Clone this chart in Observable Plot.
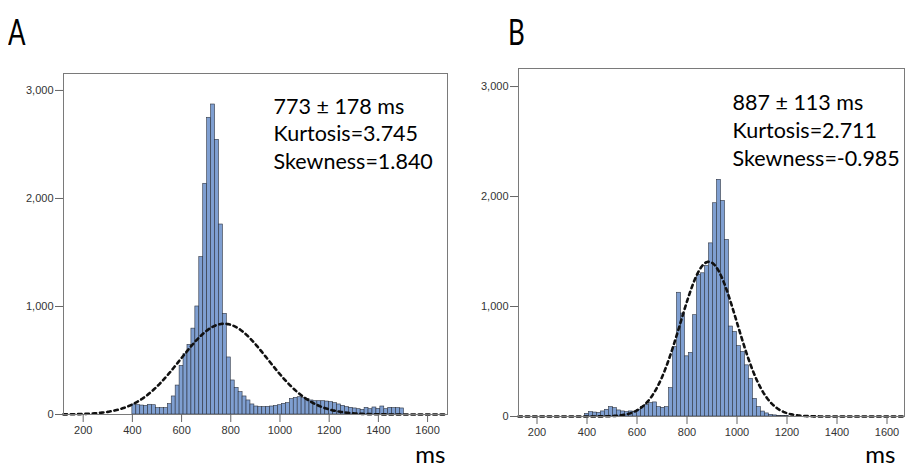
<!DOCTYPE html>
<html><head><meta charset="utf-8">
<script src="https://cdn.jsdelivr.net/npm/d3@7"></script>
<script src="https://cdn.jsdelivr.net/npm/@observablehq/plot@0.6"></script>
<style>
body{margin:0;background:#fff;}
#wrap{position:relative;width:905px;height:466px;overflow:hidden;background:#fff;}
#wrap svg{position:absolute;top:0;}
.letter{position:absolute;top:12px;font-family:Lato,sans-serif;font-size:37px;line-height:1;transform:scaleX(0.7);transform-origin:left top;color:#000;}
</style>
</head><body>
<div id="wrap"></div>
<script>
// ---- data ----
const xTicks = [200, 400, 600, 800, 1000, 1200, 1400, 1600];
const yTicks = [0, 1000, 2000, 3000];

// Panel A histogram: bins of binWidthA ms starting at binStartA
const binStartA = 400;
const binWidthA = 16;
const countsA = [93, 86, 83, 80, 90, 86, 59, 59, 59, 96,
  167, 268, 450, 560, 645, 795, 1000, 1457, 2136, 2747,
  2870, 2543, 1759, 932, 528, 315, 247, 207, 167, 130,
  93, 74, 68, 68, 71, 74, 80, 86, 99, 105,
  142, 154, 160, 151, 142, 130, 123, 123, 123, 120,
  114, 105, 93, 80, 68, 62, 56, 49, 43, 62,
  49, 65, 52, 74, 49, 62, 59, 59, 56];
const meanA = 773, sdA = 178, curvePeakA = 840;
const statsA = ["773 ± 178 ms", "Kurtosis=3.745", "Skewness=1.840"];

// Panel B histogram
const binStartB = 392;
const binWidthB = 16;
const countsB = [24, 40, 36, 33, 46, 61, 85, 76, 55, 46,
  40, 46, 40, 61, 85, 106, 122, 128, 85, 79,
  85, 258, 632, 1125, 936, 547, 578, 921, 1287, 1302,
  1368, 1574, 1939, 2152, 1960, 1605, 818, 769, 640, 587,
  465, 343, 160, 85, 45, 28, 15, 10, 6, 4, 3];
const meanB = 887, sdB = 113, curvePeakB = 1407;
const statsB = ["887 ± 113 ms", "Kurtosis=2.711", "Skewness=-0.985"];

const panelLetters = ["A", "B"];
const unitLabel = "ms";

// ---- helpers ----
const toBins = (counts, start, w) => counts.map((c, i) => ({x0: start + i * w, x1: start + (i + 1) * w, count: c}));
const normalCurve = (mean, sd, peak, domain) => {
  const pts = [];
  for (let x = domain[0]; x <= domain[1]; x += 4) pts.push({x, y: peak * Math.exp(-0.5 * ((x - mean) / sd) ** 2)});
  return pts;
};

const barFill = "#7f9fd1", barStroke = "#2e3440";

function panel({width, mLeft, mRight, mTop, mBottom, xDomain, yDomain, bins, curve, stats, statDx, statDy, statStep, msDx, msDy}) {
  return Plot.plot({
    width, height: 466,
    marginLeft: mLeft, marginRight: mRight, marginTop: mTop, marginBottom: mBottom,
    x: {domain: xDomain},
    y: {domain: yDomain},
    style: {fontFamily: "'Liberation Sans', Arial, sans-serif", fontSize: "11px", background: "transparent", overflow: "visible"},
    marks: [
      Plot.rectY(bins, {x1: "x0", x2: "x1", y: "count", fill: barFill, stroke: barStroke, strokeWidth: 0.6}),
      Plot.line(curve, {x: "x", y: "y", stroke: "#111", strokeWidth: 2.6, strokeDasharray: "3.5,3.8"}),
      Plot.frame({stroke: "#7a7a7a"}),
      Plot.axisY({ticks: yTicks, tickFormat: d3.format(","), tickSize: 8, tickPadding: 2, label: null, stroke: "#666", fill: "#333"}),
      Plot.axisX({ticks: xTicks, tickFormat: d3.format("d"), tickSize: 8, tickPadding: 4, label: null, stroke: "#666", fill: "#333"}),
      ...stats.map((t, i) => Plot.text([t], {text: d => d, frameAnchor: "top-left", textAnchor: "start", lineAnchor: "bottom",
        dx: statDx, dy: statDy + i * statStep, fontSize: 21.5, fontFamily: "Lato, sans-serif", fill: "#000"})),
      Plot.text([unitLabel], {text: d => d, frameAnchor: "bottom-right", textAnchor: "end", lineAnchor: "bottom",
        dx: msDx, dy: msDy, fontSize: 24, fontFamily: "Lato, sans-serif", fill: "#000"})
    ]
  });
}

const domainA = [120, 1681], domainB = [126, 1670];
const svgA = panel({width: 460, mLeft: 63, mRight: 13, mTop: 73, mBottom: 52,
  xDomain: domainA, yDomain: [0, 3157],
  bins: toBins(countsA, binStartA, binWidthA), curve: normalCurve(meanA, sdA, curvePeakA, domainA),
  stats: statsA, statDx: 210, statDy: 40, statStep: 27.7, msDx: -2, msDy: 48});
const svgB = panel({width: 445, mLeft: 58, mRight: 1, mTop: 68, mBottom: 50,
  xDomain: domainB, yDomain: [0, 3164],
  bins: toBins(countsB, binStartB, binWidthB), curve: normalCurve(meanB, sdB, curvePeakB, domainB),
  stats: statsB, statDx: 214, statDy: 41, statStep: 28.3, msDx: -9, msDy: 46});

const wrap = document.getElementById("wrap");
svgA.style.left = "0px";
svgB.style.left = "460px";
wrap.appendChild(svgA);
wrap.appendChild(svgB);
panelLetters.forEach((t, i) => {
  const d = document.createElement("div");
  d.className = "letter";
  d.textContent = t;
  d.style.left = (i === 0 ? 8 : 508) + "px";
  wrap.appendChild(d);
});
</script>
</body></html>
